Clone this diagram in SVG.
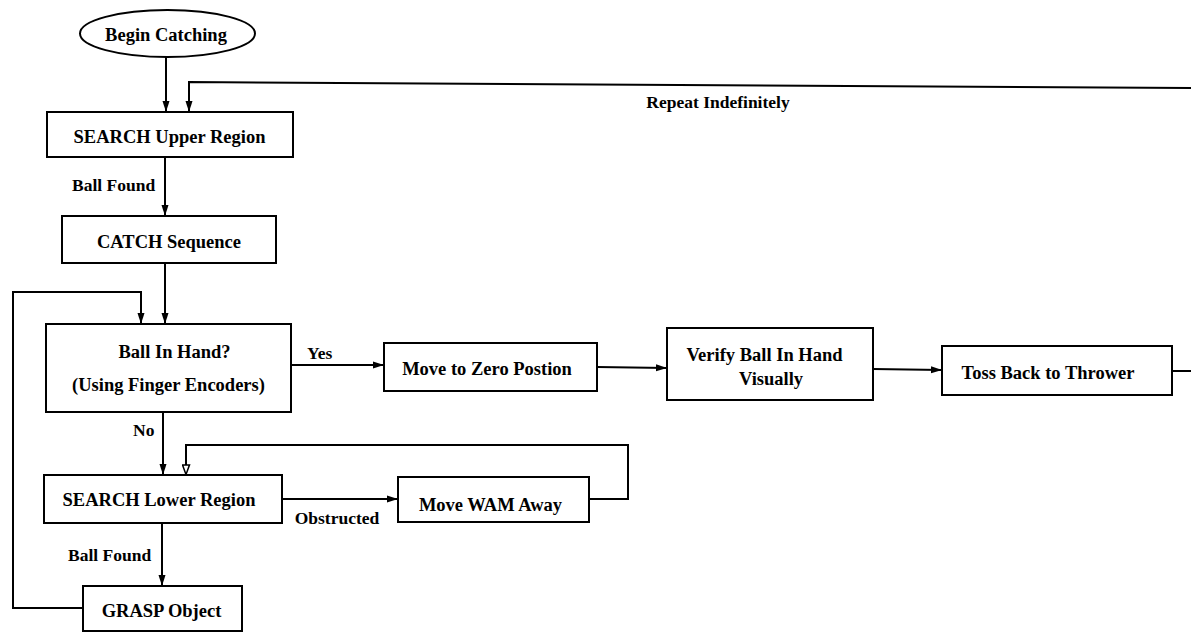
<svg xmlns="http://www.w3.org/2000/svg" width="1191" height="632" viewBox="0 0 1191 632">
<style>
.box{fill:#fff;stroke:#000;stroke-width:2}
.t{font-family:"Liberation Serif","Times New Roman",serif;font-weight:bold;font-size:18.5px;fill:#000;text-anchor:middle}
.l{font-family:"Liberation Serif","Times New Roman",serif;font-weight:bold;font-size:17.5px;fill:#000}
.c{fill:none;stroke:#000;stroke-width:2}
</style>
<defs>
<marker id="ah" markerUnits="userSpaceOnUse" markerWidth="12" markerHeight="8" refX="11" refY="4" orient="auto">
<path d="M0,0.5 L11,4 L0,7.5 z" fill="#000"/>
</marker>
<marker id="ao" markerUnits="userSpaceOnUse" markerWidth="12" markerHeight="9" refX="11" refY="4.5" orient="auto">
<path d="M1,1 L10.5,4.5 L1,8 z" fill="#fff" stroke="#000" stroke-width="1.5"/>
</marker>
</defs>
<rect width="1191" height="632" fill="#fff"/>
<g id="connectors">
<line class="c" x1="166" y1="57" x2="166" y2="112" marker-end="url(#ah)"/>
<polyline class="c" points="1191,88 189,82 189,112" marker-end="url(#ah)"/>
<line class="c" x1="165" y1="157" x2="165" y2="216" marker-end="url(#ah)"/>
<line class="c" x1="165" y1="263" x2="165" y2="324" marker-end="url(#ah)"/>
<polyline class="c" points="83,608 13,608 13,292 141,292 141,324" marker-end="url(#ah)"/>
<line class="c" x1="291" y1="365" x2="384" y2="365" marker-end="url(#ah)"/>
<line class="c" x1="597" y1="367" x2="667" y2="368" marker-end="url(#ah)"/>
<line class="c" x1="873" y1="369" x2="942" y2="370" marker-end="url(#ah)"/>
<line class="c" x1="1172" y1="371" x2="1191" y2="371"/>
<line class="c" x1="163" y1="412" x2="163" y2="475" marker-end="url(#ah)"/>
<line class="c" x1="282" y1="499" x2="398" y2="499" marker-end="url(#ah)"/>
<polyline class="c" points="589,499 628,499 628,445 186,445 186,475" marker-end="url(#ao)"/>
<line class="c" x1="162" y1="523" x2="162" y2="586" marker-end="url(#ah)"/>
<text class="l" x="718" y="108" text-anchor="middle">Repeat Indefinitely</text>
<text class="l" x="72" y="191">Ball Found</text>
<text class="l" x="307" y="359">Yes</text>
<text class="l" x="133" y="436">No</text>
<text class="l" x="337" y="524" text-anchor="middle">Obstructed</text>
<text class="l" x="68" y="561">Ball Found</text>
</g>
<g id="begin">
<ellipse class="box" cx="167.5" cy="33.5" rx="87.5" ry="23.5"/>
<text class="t" x="166" y="41">Begin Catching</text>
</g>
<g id="search-upper">
<rect class="box" x="47" y="112" width="246" height="45"/>
<text class="t" x="169.5" y="143">SEARCH Upper Region</text>
</g>
<g id="catch">
<rect class="box" x="62" y="216" width="214" height="47"/>
<text class="t" x="169" y="248">CATCH Sequence</text>
</g>
<g id="ball-in-hand">
<rect class="box" x="46" y="324" width="245" height="88"/>
<text class="t" x="174.5" y="358">Ball In Hand?</text>
<text class="t" x="168.5" y="391">(Using Finger Encoders)</text>
</g>
<g id="move-zero">
<rect class="box" x="384" y="343" width="213" height="48"/>
<text class="t" x="487" y="375">Move to Zero Postion</text>
</g>
<g id="verify">
<rect class="box" x="667" y="328" width="206" height="72"/>
<text class="t" x="764.5" y="361">Verify Ball In Hand</text>
<text class="t" x="771" y="385">Visually</text>
</g>
<g id="toss">
<rect class="box" x="942" y="346" width="230" height="49"/>
<text class="t" x="1048" y="379">Toss Back to Thrower</text>
</g>
<g id="search-lower">
<rect class="box" x="44" y="475" width="238" height="48"/>
<text class="t" x="159" y="506">SEARCH Lower Region</text>
</g>
<g id="move-wam">
<rect class="box" x="398" y="477" width="191" height="45"/>
<text class="t" x="490.5" y="511">Move WAM Away</text>
</g>
<g id="grasp">
<rect class="box" x="83" y="586" width="159" height="45"/>
<text class="t" x="161.5" y="617">GRASP Object</text>
</g>
</svg>
